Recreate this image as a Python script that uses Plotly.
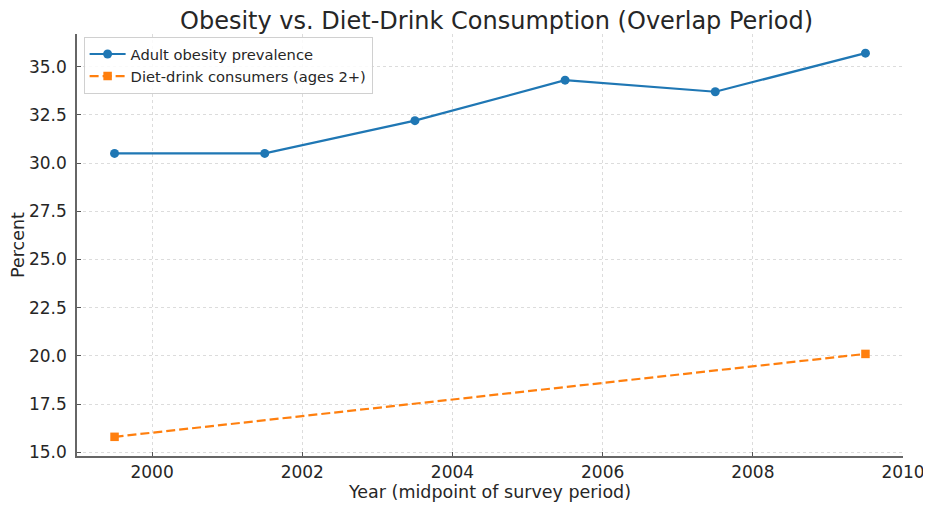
import plotly.graph_objects as go

years = [1999.5, 2001.5, 2003.5, 2005.5, 2007.5, 2009.5]
obesity = [30.5, 30.5, 32.2, 34.3, 33.7, 35.7]
diet_years = [1999.5, 2009.5]
diet = [15.8, 20.1]
x_ticks = [2000, 2002, 2004, 2006, 2008, 2010]
y_ticks = [15.0, 17.5, 20.0, 22.5, 25.0, 27.5, 30.0, 32.5, 35.0]

fig = go.Figure()
fig.add_trace(go.Scatter(x=years, y=obesity, mode="lines+markers",
                         name="Adult obesity prevalence",
                         line=dict(color="#1f77b4", width=2.2),
                         marker=dict(symbol="circle", size=9, color="#1f77b4")))
fig.add_trace(go.Scatter(x=diet_years, y=diet, mode="lines+markers",
                         name="Diet-drink consumers (ages 2+)",
                         line=dict(color="#ff7f0e", width=2.2, dash="9px,4px"),
                         marker=dict(symbol="square", size=8.5, color="#ff7f0e")))

# the page body has an 8px margin, so the figure is 8px smaller and offset
W, H = 923, 500
font = "DejaVu Sans"
fig.update_layout(
    width=W, height=H,
    margin=dict(l=69, r=28, t=26, b=52, autoexpand=False),
    paper_bgcolor="white", plot_bgcolor="white",
    font=dict(family=font, size=15, color="#262626"),
    title=dict(text="Obesity vs. Diet-Drink Consumption (Overlap Period)",
               x=0.508, xanchor="center", xref="paper", y=1 - 13 / H, yanchor="middle",
               font=dict(size=24, color="#262626")),
    legend=dict(x=0.008, y=0.993, xanchor="left", yanchor="top",
                bgcolor="rgba(255,255,255,0.85)", bordercolor="#d0d0d0",
                borderwidth=1, font=dict(size=14.7, color="#262626"),
                tracegroupgap=0, itemwidth=36),
    showlegend=True,
)
fig.update_xaxes(range=[1999.0, 2010.0], tickvals=x_ticks,
                 ticktext=[str(t) for t in x_ticks], automargin=False,
                 showgrid=True, gridcolor="#dcdcdc", griddash="dot", gridwidth=1,
                 showline=True, linecolor="#666666", linewidth=1.5,
                 ticks="inside", ticklen=4, tickcolor="#555555",
                 ticklabelstandoff=0,
                 tickfont=dict(size=17), zeroline=False,
                 title=dict(text="Year (midpoint of survey period)", font=dict(size=17.5),
                            standoff=3))
fig.update_yaxes(range=[14.805, 36.695], tickvals=y_ticks,
                 ticktext=[f"{t:.1f}" for t in y_ticks], automargin=False,
                 showgrid=True, gridcolor="#dcdcdc", griddash="dot", gridwidth=1,
                 showline=True, linecolor="#666666", linewidth=1.5,
                 ticks="inside", ticklen=4, tickcolor="#555555",
                 ticklabelstandoff=5,
                 tickfont=dict(size=17), zeroline=False,
                 title=dict(text="Percent", font=dict(size=17.5), standoff=6))

fig.write_html("out.html")
